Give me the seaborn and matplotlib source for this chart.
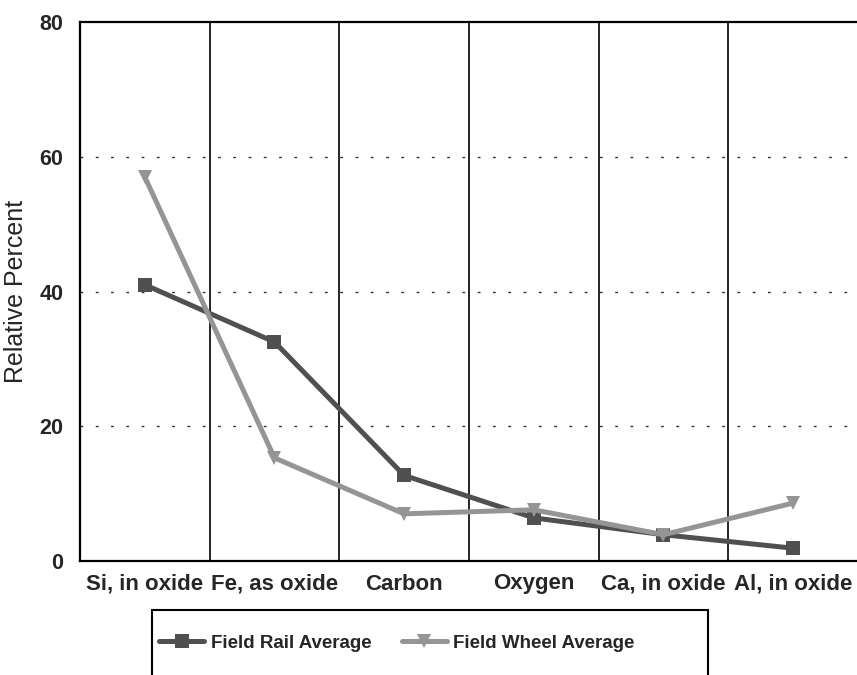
import matplotlib
matplotlib.use('Agg')
import matplotlib.pyplot as plt
from matplotlib.patches import Rectangle
from matplotlib.ticker import FixedLocator, MultipleLocator
import seaborn as sns
import pandas as pd

# Chart data
elements = ['Si, in oxide', 'Fe, as oxide', 'Carbon', 'Oxygen', 'Ca, in oxide', 'Al, in oxide']
rail_avg = [41.0, 32.5, 12.7, 6.4, 3.9, 1.9]
wheel_avg = [57.0, 15.3, 7.0, 7.6, 3.9, 8.6]
series_names = ['Field Rail Average', 'Field Wheel Average']
y_ticks = [0, 20, 40, 60, 80]

sns.set_style('white')
plt.rcParams['font.family'] = ['Liberation Sans', 'DejaVu Sans']

# Long-form table for seaborn
pos = list(range(len(elements)))
df = pd.DataFrame({
    'pos': pos + pos,
    'value': rail_avg + wheel_avg,
    'series': [series_names[0]] * len(pos) + [series_names[1]] * len(pos),
})

fig = plt.figure(figsize=(8.57, 6.75), dpi=100)
ax = fig.add_axes([80 / 857, 1 - 561 / 675, 778 / 857, 539 / 675])

sns.lineplot(data=df, x='pos', y='value', hue='series', style='series',
             markers=['s', 'v'], dashes=False, sort=False,
             palette=['#505050', '#959595'], linewidth=3.6, markersize=10,
             markeredgewidth=0, ax=ax)

ax.set_xlim(-0.5, len(elements) - 0.5)
ax.set_ylim(0, 80)

# category labels at centres, solid dividers between categories
ax.set_xticks(pos)
ax.set_xticklabels(elements, fontsize=16, fontweight='bold')
ax.xaxis.set_minor_locator(FixedLocator([p + 0.5 for p in pos[:-1]]))
ax.tick_params(axis='x', which='major', length=0, pad=9)
ax.tick_params(axis='x', which='minor', length=6, direction='out', width=1.2)
for b in [p + 0.5 for p in pos[:-1]]:
    ax.axvline(b, color='black', lw=1.2, zorder=0)

ax.set_yticks(y_ticks)
ax.set_yticklabels([str(t) for t in y_ticks], fontsize=15.5, fontweight='bold')
ax.yaxis.set_minor_locator(MultipleLocator(10))
ax.tick_params(axis='y', which='major', length=7, direction='out', width=1.2, pad=5)
ax.tick_params(axis='y', which='minor', length=3, direction='inout', width=1)
for t in [20, 40, 60]:
    ax.axhline(t, color='#333333', lw=1, linestyle=(0, (2, 9)), zorder=0)

ax.set_xlabel('')
ax.set_ylabel('Relative Percent', fontsize=18, labelpad=8)

for side in ['left', 'bottom', 'top']:
    ax.spines[side].set_color('black')
    ax.spines[side].set_linewidth(1.6)
ax.spines['right'].set_visible(False)

# legend below the plot in an open-bottom box
handles, labels = ax.get_legend_handles_labels()
ax.get_legend().remove()
fig.legend(handles, labels, loc='center', ncol=2, frameon=False,
           bbox_to_anchor=(397 / 857, 1 - 643 / 675),
           prop={'size': 13.5, 'weight': 'bold'},
           handlelength=2.4, columnspacing=1.6, handletextpad=0.35)
fig.patches.append(Rectangle((152 / 857, -0.01), (708 - 152) / 857, (675 - 610) / 675 + 0.01,
                             transform=fig.transFigure, fill=False,
                             edgecolor='black', lw=1.5))

fig.savefig('out.png', dpi=100)
